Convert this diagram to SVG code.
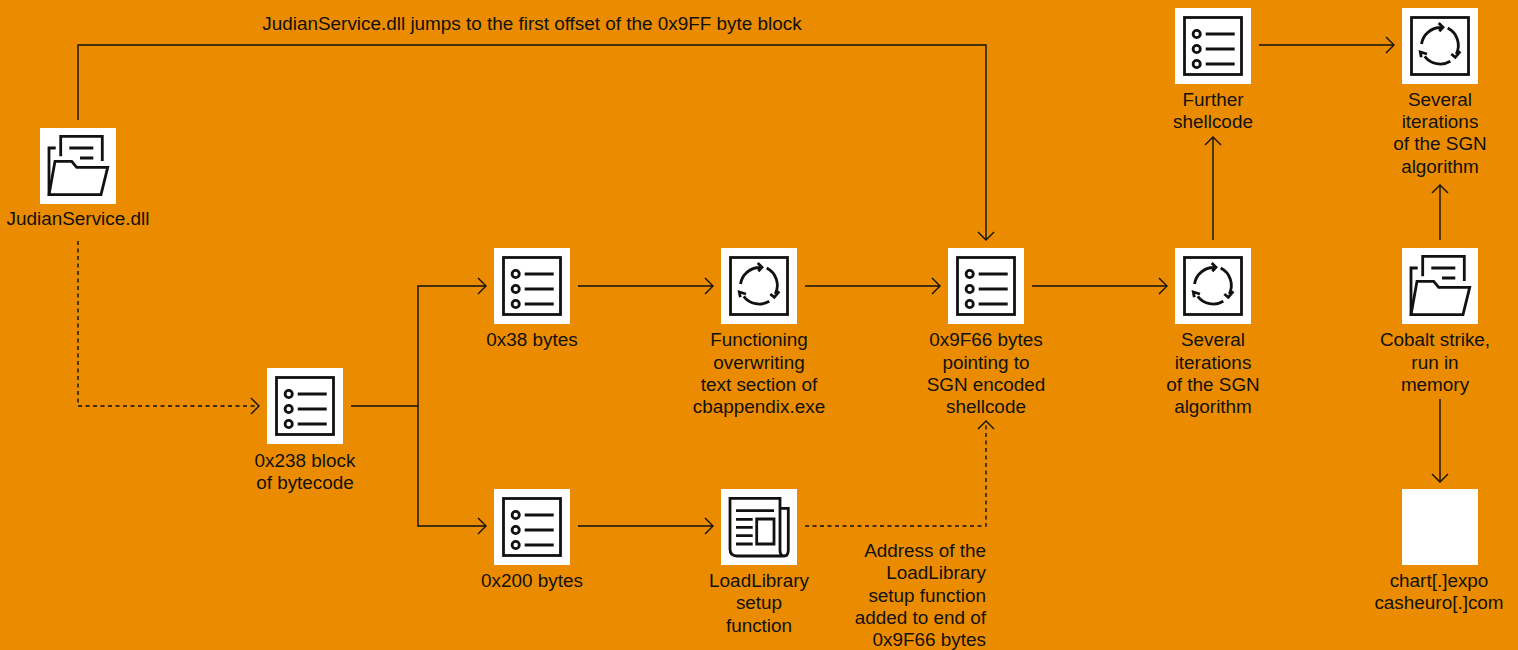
<svg xmlns="http://www.w3.org/2000/svg" width="1518" height="650" viewBox="0 0 1518 650">
<style>
text{font-family:"Liberation Sans",Arial,sans-serif;font-size:18.9px;fill:#111;text-anchor:middle}
.e{text-anchor:end}
.c{fill:none;stroke:#111;stroke-width:1.4}
.d{stroke-dasharray:4 3.5}
.i{fill:none;stroke:#111;stroke-width:2.8}
.t{fill:#fff}
</style>
<defs>
<marker id="a" markerWidth="14" markerHeight="18" refX="13" refY="9" orient="auto" markerUnits="userSpaceOnUse"><path d="M5 1L13 9L5 17" fill="none" stroke="#111" stroke-width="1.4"/></marker>
<g id="list"><rect class="t" width="76" height="76"/><rect class="i" x="9.5" y="9.5" width="57" height="57"/><g class="i"><circle cx="21.7" cy="26" r="3.6"/><circle cx="21.7" cy="41" r="3.6"/><circle cx="21.7" cy="56" r="3.6"/><path d="M30.7 26H59.7M30.7 41H59.7M30.7 56H59.7"/></g></g>
<g id="cycle"><rect class="t" width="76" height="76"/><rect class="i" x="9.5" y="9.5" width="57" height="57"/><g class="i"><path d="M19.5 36A19.5 19.5 0 0 1 39 19.5M45.7 20A19.5 19.5 0 0 1 54.3 46M48.3 53.3A19.5 19.5 0 0 1 22.7 48.3M36.7 15L41 19.3L37.3 23.3M49.3 46L53.3 49.3L58.3 43.3M19.3 49.3L18.3 44L25 46"/></g></g>
<g id="folder"><rect class="t" width="76" height="76"/><g class="i"><path d="M20.7 28.3V8.3H62.3V33M15.7 20H9V66.7M29.3 20H53.3M40 30H53.3"/><path d="M9 66.7L15 33.3H31.7L36.7 39.3H67.7L61 66.7Z"/></g></g>
<g id="news"><rect class="t" width="76" height="76"/><g class="i"><path d="M59 19.3H67.3V61Q67.3 67 63 67Q59 67 59 61V9.3H9V60Q9 67 16 67H63"/><path d="M15 21.7H53M15 30.3H31.7M15 38.3H31.7M15 46.7H31.7M15 55H31.7M35.7 30H53V55H35.7Z"/></g></g>
</defs>
<rect width="1518" height="650" fill="#eb8c00"/>
<g id="connectors">
<path class="c" marker-end="url(#a)" d="M78 120V45H986V240"/>
<path class="c d" marker-end="url(#a)" d="M78 241V406H259"/>
<path class="c" d="M351 406H418"/>
<path class="c" marker-end="url(#a)" d="M418 406V286H486"/>
<path class="c" marker-end="url(#a)" d="M418 406V526H486"/>
<path class="c" marker-end="url(#a)" d="M578 286H713"/>
<path class="c" marker-end="url(#a)" d="M805 286H940"/>
<path class="c" marker-end="url(#a)" d="M1032 286H1167"/>
<path class="c" marker-end="url(#a)" d="M578 526H713"/>
<path class="c d" marker-end="url(#a)" d="M805 526H986V421"/>
<path class="c" marker-end="url(#a)" d="M1213 240V137"/>
<path class="c" marker-end="url(#a)" d="M1259 45H1394"/>
<path class="c" marker-end="url(#a)" d="M1440 240V185"/>
<path class="c" marker-end="url(#a)" d="M1440 399V482"/>
</g>
<g id="edge-label"><text x="532" y="30">JudianService.dll jumps to the first offset of the 0x9FF byte block</text></g>
<g id="n-judian"><use href="#folder" x="40" y="128"/><text x="78" y="225">JudianService.dll</text></g>
<g id="n-238"><use href="#list" x="267" y="368"/><text x="305" y="467">0x238 block</text><text x="305" y="489">of bytecode</text></g>
<g id="n-38"><use href="#list" x="494" y="248"/><text x="532" y="346">0x38 bytes</text></g>
<g id="n-overwrite"><use href="#cycle" x="721" y="248"/><text x="759" y="346">Functioning</text><text x="759" y="369">overwriting</text><text x="759" y="391">text section of</text><text x="759" y="413">cbappendix.exe</text></g>
<g id="n-9f66"><use href="#list" x="948" y="248"/><text x="986" y="346">0x9F66 bytes</text><text x="986" y="369">pointing to</text><text x="986" y="391">SGN encoded</text><text x="986" y="413">shellcode</text></g>
<g id="n-sgn1"><use href="#cycle" x="1175" y="248"/><text x="1213" y="346">Several</text><text x="1213" y="369">iterations</text><text x="1213" y="391">of the SGN</text><text x="1213" y="413">algorithm</text></g>
<g id="n-further"><use href="#list" x="1175" y="8"/><text x="1213" y="106">Further</text><text x="1213" y="128">shellcode</text></g>
<g id="n-sgn2"><use href="#cycle" x="1402" y="8"/><text x="1440" y="106">Several</text><text x="1440" y="128">iterations</text><text x="1440" y="150">of the SGN</text><text x="1440" y="173">algorithm</text></g>
<g id="n-cobalt"><use href="#folder" x="1402" y="248"/><text x="1435" y="346">Cobalt strike,</text><text x="1435" y="369">run in</text><text x="1435" y="391">memory</text></g>
<g id="n-domains"><rect class="t" x="1402" y="489" width="76" height="76"/><text x="1439" y="587">chart[.]expo</text><text x="1439" y="609">casheuro[.]com</text></g>
<g id="n-200"><use href="#list" x="494" y="489"/><text x="532" y="587">0x200 bytes</text></g>
<g id="n-loadlib"><use href="#news" x="721" y="489"/><text x="759" y="587">LoadLibrary</text><text x="759" y="609">setup</text><text x="759" y="632">function</text></g>
<g id="edge-label-2"><text class="e" x="986" y="557">Address of the</text><text class="e" x="986" y="579">LoadLibrary</text><text class="e" x="986" y="602">setup function</text><text class="e" x="986" y="624">added to end of</text><text class="e" x="986" y="646">0x9F66 bytes</text></g>
</svg>
